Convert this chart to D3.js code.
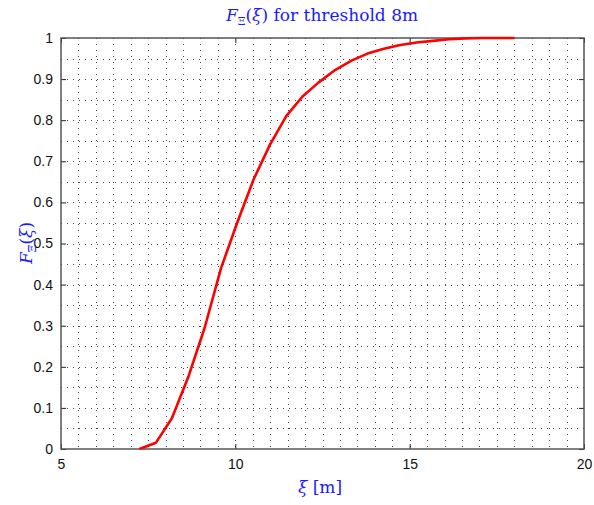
<!DOCTYPE html>
<html><head><meta charset="utf-8">
<script src="https://cdn.jsdelivr.net/npm/d3@7"></script>
<style>body{margin:0;background:#fff}</style>
</head><body>
<svg id="c" width="594" height="505"></svg>
<script>
const xValues = [7.25, 7.72, 8.18, 8.65, 9.12, 9.59, 10.05, 10.52, 10.99, 11.46, 11.92, 12.39, 12.86, 13.33, 13.79, 14.26, 14.73, 15.20, 15.66, 16.13, 16.60, 17.07, 17.53, 18.00];
const yValues = [0.0, 0.015, 0.075, 0.175, 0.295, 0.44, 0.55, 0.655, 0.74, 0.81, 0.857, 0.892, 0.922, 0.945, 0.962, 0.974, 0.983, 0.989, 0.993, 0.997, 0.999, 1.0, 1.0, 1.0];
const xTicks = [5, 10, 15, 20];
const yTicks = [0, 0.1, 0.2, 0.3, 0.4, 0.5, 0.6, 0.7, 0.8, 0.9, 1];
const xGrid = d3.range(5.5, 20, 0.5);
const yGrid = d3.range(1, 20).map(i => i * 0.05);

const svg = d3.select("#c");
const L = 61, R = 584, T = 38, B = 449;
const x = d3.scaleLinear().domain([5, 20]).range([L, R]);
const y = d3.scaleLinear().domain([0, 1]).range([B, T]);

// grid
const g = svg.append("g").attr("stroke", "#444").attr("stroke-width", 1).attr("stroke-dasharray", "1,5");
g.selectAll(".vx").data(xGrid).join("line")
  .attr("x1", d => Math.round(x(d)) + 0.5).attr("x2", d => Math.round(x(d)) + 0.5)
  .attr("y1", T).attr("y2", B);
g.selectAll(".hy").data(yGrid).join("line")
  .attr("y1", d => Math.round(y(d)) + 0.5).attr("y2", d => Math.round(y(d)) + 0.5)
  .attr("x1", L).attr("x2", R);

// axes
const fontTick = "Liberation Sans, Arial, sans-serif";
const axB = svg.append("g").attr("transform", `translate(0,${B})`)
  .call(d3.axisBottom(x).tickValues(xTicks).tickSizeInner(-5).tickSizeOuter(0).tickPadding(10).tickFormat(d3.format("d")));
const axT = svg.append("g").attr("transform", `translate(0,${T})`)
  .call(d3.axisTop(x).tickValues(xTicks).tickSizeInner(-5).tickSizeOuter(0).tickFormat(""));
const axL = svg.append("g").attr("transform", `translate(${L},0)`)
  .call(d3.axisLeft(y).tickValues(yTicks).tickSizeInner(-5).tickSizeOuter(0).tickPadding(8).tickFormat(d => d === 0 ? "0" : d === 1 ? "1" : d3.format(".1f")(d)));
const axR = svg.append("g").attr("transform", `translate(${R},0)`)
  .call(d3.axisRight(y).tickValues(yTicks).tickSizeInner(-5).tickSizeOuter(0).tickFormat(""));
[axB, axT, axL, axR].forEach(a => {
  a.select(".domain").remove();
  a.selectAll("line").attr("stroke", "#222");
  a.selectAll("text").attr("font-family", fontTick).attr("font-size", 14).attr("fill", "#111");
});
axB.selectAll("text").attr("dy", "0.71em");

// frame
svg.append("rect").attr("x", L).attr("y", T).attr("width", R - L).attr("height", B - T)
  .attr("fill", "none").attr("stroke", "#555").attr("stroke-width", 1.5);

// curve
const data = xValues.map((v, i) => [v, yValues[i]]);
svg.append("path").datum(data)
  .attr("fill", "none").attr("stroke", "#ff0000").attr("stroke-width", 2.6)
  .attr("stroke-linejoin", "round")
  .attr("d", d3.line().x(d => x(d[0])).y(d => y(d[1])));

// labels
const serif = "DejaVu Serif, Liberation Serif, serif";
const blue = "#1a1aff";
const title = svg.append("text").attr("x", 322).attr("y", 21).attr("text-anchor", "middle")
  .attr("font-family", serif).attr("font-size", 17).attr("fill", blue);
title.append("tspan").attr("font-style", "italic").text("F");
title.append("tspan").attr("font-size", 11).attr("dy", 4).text("Ξ");
title.append("tspan").attr("dy", -4).text("(");
title.append("tspan").attr("font-style", "italic").text("ξ");
title.append("tspan").text(") for threshold 8m");

const xl = svg.append("text").attr("x", 320).attr("y", 493).attr("text-anchor", "middle")
  .attr("font-family", serif).attr("font-size", 17).attr("fill", blue);
xl.append("tspan").attr("font-style", "italic").text("ξ");
xl.append("tspan").text(" [m]");

const yl = svg.append("text").attr("transform", "translate(32,243) rotate(-90)").attr("text-anchor", "middle")
  .attr("font-family", serif).attr("font-size", 17).attr("fill", blue);
yl.append("tspan").attr("font-style", "italic").text("F");
yl.append("tspan").attr("font-size", 11).attr("dy", 4).text("Ξ");
yl.append("tspan").attr("dy", -4).text("(");
yl.append("tspan").attr("font-style", "italic").text("ξ");
yl.append("tspan").text(")");
</script>
</body></html>
